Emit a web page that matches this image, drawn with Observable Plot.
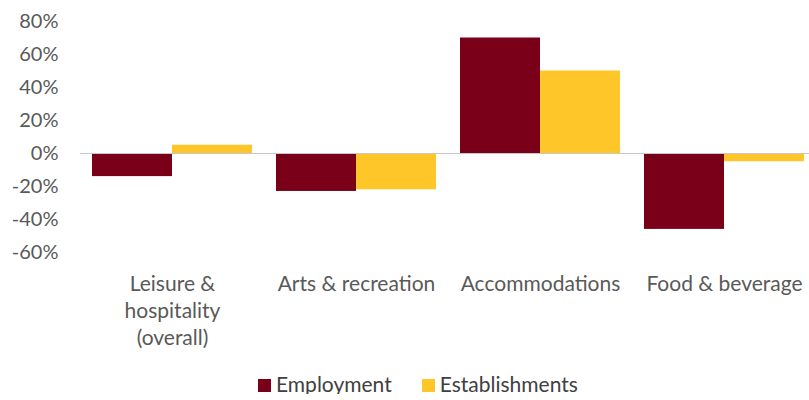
<!DOCTYPE html>
<html>
<head>
<meta charset="utf-8">
<script src="https://cdn.jsdelivr.net/npm/d3@7"></script>
<script src="https://cdn.jsdelivr.net/npm/@observablehq/plot@0.6"></script>
<style>
  body { margin: 0; background: #fff; font-family: Lato, "Open Sans", sans-serif; }
  #chart { width: 809px; }
  .legend { display: flex; gap: 30px; margin-left: 258px; margin-top: 16px; font-size: 21px; line-height: 20px; color: #404040; align-items: center; }
  .legend span.sw { display: inline-block; width: 13px; height: 13px; margin-right: 5px; vertical-align: 0px; }
</style>
</head>
<body>
<div id="chart"></div>
<script>
const categories = ["Leisure & hospitality (overall)", "Arts & recreation", "Accommodations", "Food & beverage"];
const categoryLabels = ["Leisure &\nhospitality\n(overall)", "Arts & recreation", "Accommodations", "Food & beverage"];
const seriesNames = ["Employment", "Establishments"];
const employment = [-14, -23, 70, -46];
const establishments = [5, -22, 50, -5];
const yTicks = [-60, -40, -20, 0, 20, 40, 60, 80];
const colors = ["#7a0019", "#ffc629"];

const data = [];
categories.forEach((c, i) => {
  data.push({category: c, series: seriesNames[0], value: employment[i]});
  data.push({category: c, series: seriesNames[1], value: establishments[i]});
});

const plot = Plot.plot({
  width: 809,
  height: 358,
  marginTop: 21,
  marginBottom: 106,
  marginLeft: 92,
  marginRight: 4,
  style: {fontFamily: "Lato, 'Open Sans', sans-serif", fontSize: "20px", color: "#595959", background: "#fff", overflow: "visible"},
  fx: {domain: categories, paddingInner: 0.13, paddingOuter: 0, label: null},
  x: {domain: seriesNames, padding: 0, axis: null},
  y: {domain: [-60, 80], ticks: yTicks, label: null},
  color: {domain: seriesNames, range: colors},
  marks: [
    Plot.axisY({ticks: yTicks, tickSize: 0, tickPadding: 34, tickFormat: d => d + "%", label: null, fontSize: 20}),
    Plot.axisFx({anchor: "bottom", tickSize: 0, tickPadding: 19, tickFormat: d => categoryLabels[categories.indexOf(d)], lineHeight: 1.3, label: null, fontSize: 21}),
    Plot.barY(data, {fx: "category", x: "series", y: "value", fill: "series"}),
    Plot.ruleY([0], {stroke: "#c8c8c8", strokeWidth: 1.2, insetLeft: -12, insetRight: -12})
  ]
});
document.getElementById("chart").appendChild(plot);

const legend = document.createElement("div");
legend.className = "legend";
seriesNames.forEach((s, i) => {
  const item = document.createElement("div");
  item.innerHTML = `<span class="sw" style="background:${colors[i]}"></span>${s}`;
  legend.appendChild(item);
});
document.getElementById("chart").appendChild(legend);
</script>
</body>
</html>
